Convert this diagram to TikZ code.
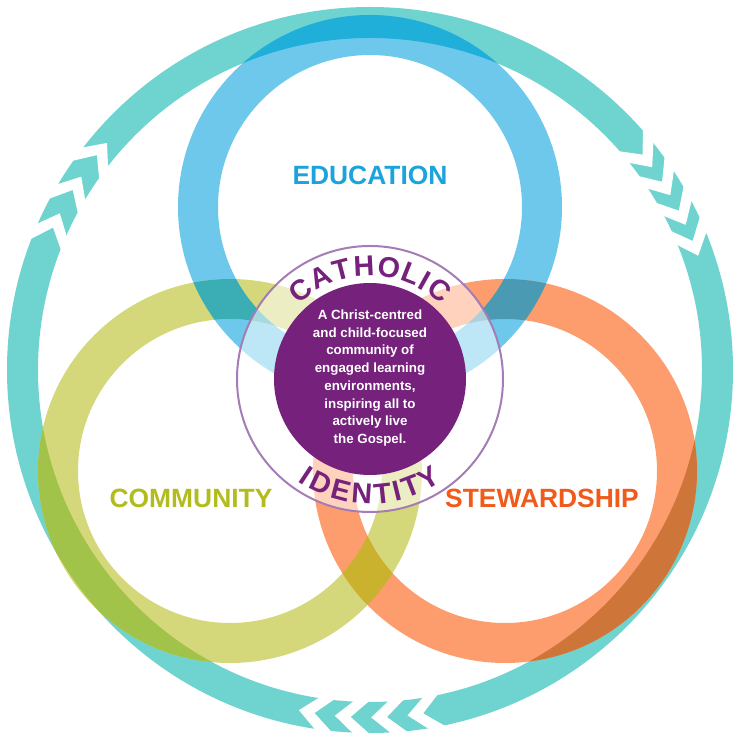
\documentclass[tikz,border=0pt]{standalone}
\usepackage{fontspec}
\setmainfont{Liberation Sans}
\usetikzlibrary{decorations.text}

\definecolor{loopteal}{HTML}{6FD3CF}
\definecolor{edublue}{HTML}{6EC8EC}
\definecolor{comgreen}{HTML}{D5D87A}
\definecolor{stewcoral}{HTML}{FD9C6D}
\definecolor{edutext}{HTML}{1BA3DB}
\definecolor{comtext}{HTML}{B3BC1E}
\definecolor{stewtext}{HTML}{F05A1A}
\definecolor{catpurple}{HTML}{76217C}
\definecolor{ringline}{HTML}{A57DB6}

\newcommand\ringpath[3]{(#1) ++(0:#2) arc[start angle=0,end angle=360,radius=#2] (#1) ++(0:#3) arc[start angle=0,end angle=-360,radius=#3]}

\begin{document}
\begin{tikzpicture}[x=0.75pt,y=0.75pt,
		band/.style={line width=30pt},
		loopband/.style={line width=23.25pt,draw=loopteal},
		ringlabel/.style={font=\fontsize{19.8}{20}\selectfont\bfseries},
		arcword/.style={decorate,decoration={text along path,text align=center,
				text={|\fontsize{21.5}{24}\selectfont\bfseries\color{catpurple}|#1}}}]
	\useasboundingbox (0,0) rectangle (732,735);
	\coordinate (O) at (370,365);
	\coordinate (E) at (370,528);
	\coordinate (M) at (230,264);
	\coordinate (S) at (505,264);
	\coordinate (K) at (370,356);

	\draw [loopband] (O) circle[radius=347.5];
	\foreach \a in {144,151,158, 24,29.5,35,40.5, 263,269,275,281}
		\fill [white,shift={(O)}] ({\a+1.3}:329) -- ({\a-2.2}:347.5) -- ({\a+1.3}:366)
		-- ({\a-1.3}:366) -- ({\a-4.8}:347.5) -- ({\a-1.3}:329) -- cycle;

	\draw [band,draw=edublue] (E) circle[radius=172];
	\draw [band,draw=comgreen] (M) circle[radius=172];
	\draw [band,draw=stewcoral] (S) circle[radius=172];
	\foreach \p/\ro/\ri/\q/\hex in {O/363/332/E/1FAFD8, O/363/332/M/A2C34A, O/363/332/S/CE763A,
			E/192/152/M/3AADB5, E/192/152/S/4A9AB3, M/192/152/S/CBB22E} {
		\definecolor{lap}{HTML}{\hex}
		\begin{scope}
			\clip \ringpath{\p}{\ro}{\ri};
			\draw [band,draw=lap] (\q) circle[radius=172];
		\end{scope}
	}

	\fill [white,opacity=0.55] (K) circle[radius=133];
	\draw [ringline,line width=1.5pt] (K) circle[radius=133];
	\fill [catpurple] (K) circle[radius=96];
	\node [text=white,align=center,font=\fontsize{10}{13.3}\selectfont\bfseries] (mission) at (370,357)
		{A Christ-centred\\and child-focused\\community of\\engaged learning\\environments,\\inspiring all to\\actively live\\the Gospel.};
	\path [shift={(K)},arcword={C{\kern1pt}A{\kern1pt}T{\kern1pt}H{\kern1pt}O{\kern1pt}L{\kern1pt}I{\kern1pt}C}]
		(170:103) arc[start angle=170,end angle=10,radius=103];
	\path [shift={(K)},arcword={I{\kern2.5pt}D{\kern2.5pt}E{\kern2.5pt}N{\kern2.5pt}T{\kern2.5pt}I{\kern2.5pt}T{\kern2.5pt}Y}]
		(195:125) arc[start angle=195,end angle=345,radius=125];

	\node [ringlabel,text=edutext] (edu) at (370,560) {EDUCATION};
	\node [ringlabel,text=comtext] (com) at (191,237) {COMMUNITY};
	\node [ringlabel,text=stewtext] (stew) at (542,237) {STEWARDSHIP};
\end{tikzpicture}
\end{document}
